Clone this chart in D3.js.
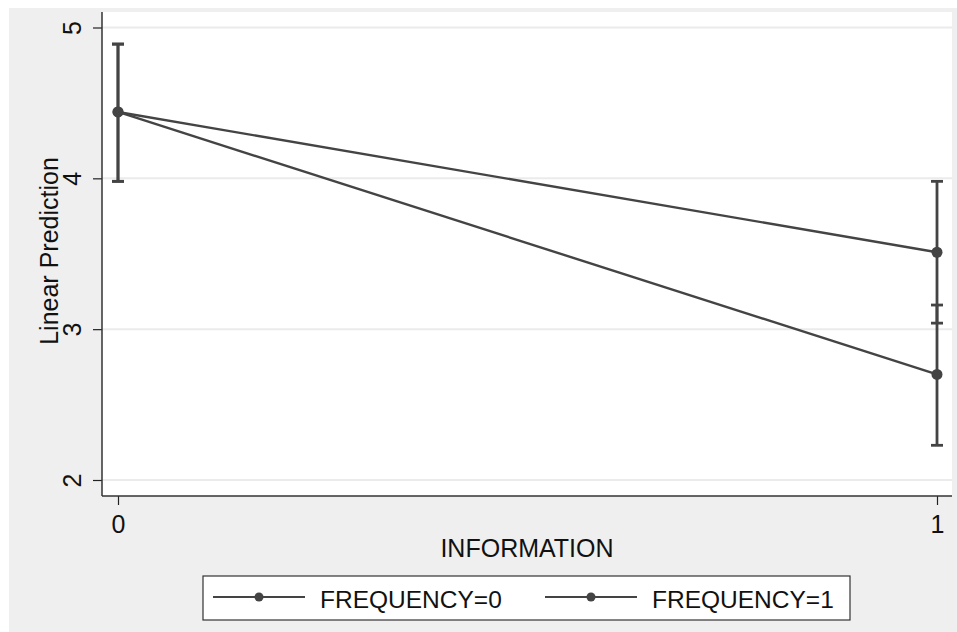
<!DOCTYPE html>
<html>
<head>
<meta charset="utf-8">
<script src="https://cdn.jsdelivr.net/npm/d3@7"></script>
<style>
  body { margin: 0; background: #fff; }
  text { font-family: "Liberation Sans", Arial, sans-serif; fill: #111; }
</style>
</head>
<body>
<div id="chart"></div>
<script>
// values
const information = [0, 1];
const freq0 = [4.44, 2.70];
const freq0Lo = [3.98, 2.23];
const freq0Hi = [4.89, 3.16];
const freq1 = [4.44, 3.51];
const freq1Lo = [3.98, 3.04];
const freq1Hi = [4.89, 3.98];
const yTicks = [2, 3, 4, 5];
const xTicks = [0, 1];
const seriesNames = ['FREQUENCY=0', 'FREQUENCY=1'];

const W = 957, H = 632;
const ink = '#444';

const svg = d3.select('#chart').append('svg')
  .attr('width', W)
  .attr('height', H);

// outer grey panel
svg.append('rect').attr('x', 9).attr('y', 8).attr('width', W - 9).attr('height', H - 8).style('fill', '#efefef');

// plot region
const pL = 102, pR = 952, pT = 12, pB = 496;
svg.append('rect').attr('x', pL).attr('y', pT).attr('width', pR - pL).attr('height', pB - pT).style('fill', '#fff');

const x = d3.scaleLinear().domain([0, 1]).range([118, 937]);
const y = d3.scaleLinear().domain([2, 5]).range([480, 27.5]);

// gridlines
svg.append('g').selectAll('line').data(yTicks).join('line')
  .attr('x1', pL).attr('x2', pR)
  .attr('y1', d => y(d)).attr('y2', d => y(d))
  .style('stroke', '#ebebeb').style('stroke-width', 2);

// axes
const yAxis = svg.append('g')
  .attr('transform', `translate(${pL},0)`)
  .call(d3.axisLeft(y).tickValues(yTicks).tickSize(9).tickFormat(d3.format('d')));
yAxis.select('.domain').remove();
yAxis.selectAll('.tick line').style('stroke', '#222').style('stroke-width', 1.2);
yAxis.selectAll('.tick text')
  .attr('x', 0).attr('y', 0).attr('dy', 0)
  .attr('transform', 'translate(-21,0) rotate(-90)')
  .style('text-anchor', 'middle')
  .style('font-size', '25px');

const xAxis = svg.append('g')
  .attr('transform', `translate(0,${pB})`)
  .call(d3.axisBottom(x).tickValues(xTicks).tickSize(9).tickFormat(d3.format('d')));
xAxis.select('.domain').remove();
xAxis.selectAll('.tick line').style('stroke', '#222').style('stroke-width', 1.2);
xAxis.selectAll('.tick text').style('font-size', '25px').attr('y', 37).attr('dy', 0);

svg.append('line').attr('x1', pL).attr('x2', pL).attr('y1', pT).attr('y2', pB)
  .style('stroke', '#333').style('stroke-width', 1.5);
svg.append('line').attr('x1', pL).attr('x2', pR).attr('y1', pB).attr('y2', pB)
  .style('stroke', '#333').style('stroke-width', 1.5);

// axis titles
svg.append('text')
  .attr('transform', 'translate(58,251) rotate(-90)')
  .style('text-anchor', 'middle').style('font-size', '25px')
  .text('Linear Prediction');
svg.append('text')
  .attr('x', 527).attr('y', 557)
  .style('text-anchor', 'middle').style('font-size', '25px')
  .text('INFORMATION');

// series
const series = [
  { mid: freq0, lo: freq0Lo, hi: freq0Hi },
  { mid: freq1, lo: freq1Lo, hi: freq1Hi }
];
const line = d3.line().x((d, i) => x(information[i])).y(d => y(d));

series.forEach(s => {
  const g = svg.append('g');
  information.forEach((xi, i) => {
    g.append('line').attr('x1', x(xi)).attr('x2', x(xi))
      .attr('y1', y(s.lo[i])).attr('y2', y(s.hi[i]))
      .style('stroke', ink).style('stroke-width', 2.8);
    [s.lo[i], s.hi[i]].forEach(v => {
      g.append('line').attr('x1', x(xi) - 6).attr('x2', x(xi) + 6)
        .attr('y1', y(v)).attr('y2', y(v))
        .style('stroke', ink).style('stroke-width', 2.8);
    });
  });
  g.append('path').datum(s.mid).attr('d', line)
    .style('fill', 'none').style('stroke', ink).style('stroke-width', 2.4);
  g.selectAll('circle').data(s.mid).join('circle')
    .attr('cx', (d, i) => x(information[i])).attr('cy', d => y(d)).attr('r', 5.5)
    .style('fill', ink);
});

// legend
const lg = svg.append('g');
lg.append('rect').attr('x', 203).attr('y', 576).attr('width', 647).attr('height', 44)
  .style('fill', '#fff').style('stroke', '#333').style('stroke-width', 1.2);
const legendX = [213, 545];
seriesNames.forEach((name, i) => {
  const lx = legendX[i];
  lg.append('line').attr('x1', lx).attr('x2', lx + 92).attr('y1', 597).attr('y2', 597)
    .style('stroke', ink).style('stroke-width', 2.2);
  lg.append('circle').attr('cx', lx + 46).attr('cy', 597).attr('r', 4.5).style('fill', ink);
  lg.append('text').attr('x', lx + 107).attr('y', 608)
    .style('font-size', '24.5px').text(name);
});
</script>
</body>
</html>
